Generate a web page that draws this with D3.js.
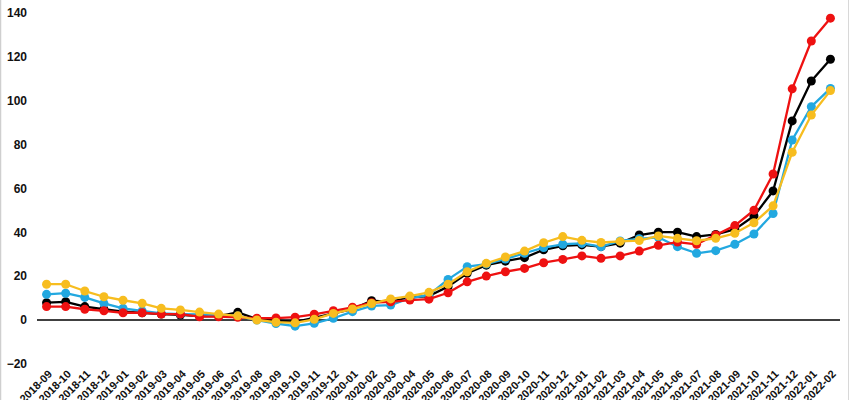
<!DOCTYPE html>
<html>
<head>
<meta charset="utf-8">
<script src="https://cdn.jsdelivr.net/npm/d3@7/dist/d3.min.js"></script>
<style>
  html, body { margin: 0; padding: 0; background: #fff; }
  svg { display: block; }
  text { font-family: "Liberation Sans", Arial, sans-serif; font-weight: bold; fill: #111; }
</style>
</head>
<body>
<svg id="chart" width="850" height="400"></svg>
<script>
const months = ["2018-09","2018-10","2018-11","2018-12","2019-01","2019-02","2019-03","2019-04","2019-05","2019-06","2019-07","2019-08","2019-09","2019-10","2019-11","2019-12","2020-01","2020-02","2020-03","2020-04","2020-05","2020-06","2020-07","2020-08","2020-09","2020-10","2020-11","2020-12","2021-01","2021-02","2021-03","2021-04","2021-05","2021-06","2021-07","2021-08","2021-09","2021-10","2021-11","2021-12","2022-01","2022-02"];

const blackSeries = [7.9,8.3,6.1,4.9,3.8,3.3,2.7,2.3,1.8,1.8,3.5,0.5,-0.3,-0.8,1.0,3.0,5.0,8.8,8.3,10.3,10.9,15.2,21.3,25.0,26.8,28.4,32.0,33.8,34.2,33.4,35.0,38.7,40.0,40.0,38.0,39.0,41.3,47.4,58.8,90.7,108.9,118.8];
const blueSeries  = [11.7,12.2,10.3,7.6,5.3,4.1,3.0,2.7,2.5,2.2,1.8,0.0,-1.6,-2.8,-1.5,0.8,3.8,6.4,6.8,9.9,11.4,18.5,24.3,25.5,27.8,30.4,33.0,34.5,34.9,33.4,36.0,37.0,37.7,33.4,30.4,31.6,34.5,39.2,48.5,82.0,97.2,105.5];
const redSeries   = [6.1,6.1,4.9,4.2,3.3,3.3,2.7,2.7,1.5,1.5,1.2,0.8,0.9,1.3,2.6,4.2,5.8,7.9,8.3,9.1,9.5,12.4,17.4,20.0,22.0,23.5,26.1,27.6,29.2,28.1,29.2,31.4,34.0,35.5,34.5,38.7,43.0,50.0,66.5,105.3,127.1,137.5];
const yellowSeries= [16.3,16.3,13.2,10.6,9.0,7.6,5.3,4.6,3.6,2.7,1.9,0.0,-1.0,-1.3,0.3,3.0,5.0,7.5,9.6,10.9,12.6,16.3,22.0,25.8,28.7,31.4,35.2,38.0,36.3,35.3,35.8,36.2,38.3,37.2,36.1,37.2,39.5,44.3,52.0,76.4,93.4,104.5];

const yTicks = [-20,0,20,40,60,80,100,120,140];

const series = [
  { name: "black",  values: blackSeries,  color: "#000000" },
  { name: "blue",   values: blueSeries,   color: "#22a8e0" },
  { name: "red",    values: redSeries,    color: "#ee1111" },
  { name: "yellow", values: yellowSeries, color: "#f7bd1f" }
];

const svg = d3.select("#chart");
const W = 850, H = 400;

// light frame edges
svg.append("line").attr("x1",0.5).attr("x2",0.5).attr("y1",0).attr("y2",H).attr("stroke","#cfcfcf").attr("stroke-width",1.5);
svg.append("line").attr("x1",848.5).attr("x2",848.5).attr("y1",0).attr("y2",H).attr("stroke","#d8d8d8").attr("stroke-width",1);

const x = d3.scalePoint().domain(months).range([37, 840]).padding(0.5);
const y = d3.scaleLinear().domain([-20, 140]).range([363.9, 12.7]);

// y axis labels (no line)
const yAxis = d3.axisLeft(y).tickValues(yTicks).tickSize(0).tickPadding(0);
const yg = svg.append("g").attr("transform", "translate(27,0)").call(yAxis);
yg.select(".domain").remove();
yg.selectAll("text").style("font-size","12px").style("font-family","'Liberation Sans', Arial, sans-serif").style("font-weight","bold").attr("fill","#111");

// zero line
svg.append("line")
  .attr("x1", 37).attr("x2", 840)
  .attr("y1", y(0)).attr("y2", y(0))
  .attr("stroke", "#000").attr("stroke-width", 1.5);

// x axis labels
const xAxis = d3.axisBottom(x).tickSize(0).tickPadding(0);
const xg = svg.append("g").attr("transform", "translate(0,372)").call(xAxis);
xg.select(".domain").remove();
xg.selectAll("text")
  .style("font-size","11px").style("font-family","'Liberation Sans', Arial, sans-serif").style("font-weight","bold")
  .attr("fill","#111")
  .attr("text-anchor","end")
  .attr("dy","0.35em")
  .attr("transform","translate(3,0) rotate(-45)");

const line = d3.line().x((d,i) => x(months[i])).y(d => y(d));

series.forEach(s => {
  const g = svg.append("g");
  g.append("path")
    .datum(s.values)
    .attr("d", line)
    .attr("fill", "none")
    .attr("stroke", s.color)
    .attr("stroke-width", 2.3)
    .attr("stroke-linejoin", "round");
  g.selectAll("circle")
    .data(s.values)
    .join("circle")
    .attr("cx", (d,i) => x(months[i]))
    .attr("cy", d => y(d))
    .attr("r", 4.5)
    .attr("fill", s.color);
});
</script>
</body>
</html>
